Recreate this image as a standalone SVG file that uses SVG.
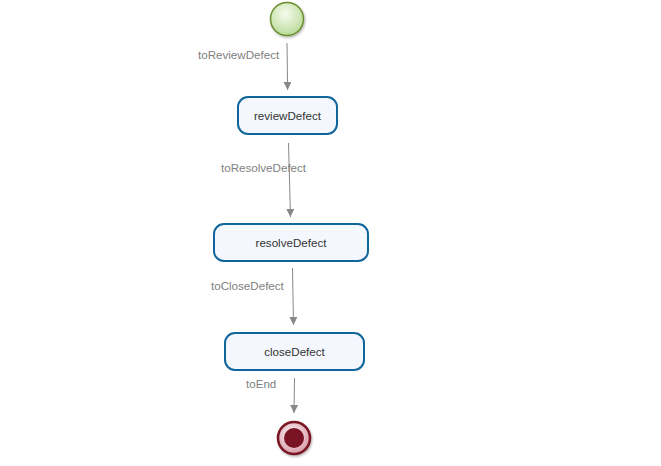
<svg xmlns="http://www.w3.org/2000/svg" width="661" height="466" viewBox="0 0 661 466">
  <style>
    .task rect { fill: #f5f7fe; stroke: #10669a; stroke-width: 2; }
    .task text { font-family: "Liberation Sans", Arial, sans-serif; font-size: 11.6px; fill: #333; text-anchor: middle; }
    .flow line { stroke: #888; stroke-width: 1; }
    .flow text { font-family: "Liberation Sans", Arial, sans-serif; font-size: 11.6px; fill: #808080; }
  </style>
  <defs>
    <radialGradient id="startFill" cx="0.45" cy="0.35" r="0.7">
      <stop offset="0" stop-color="#f7fbef"/>
      <stop offset="1" stop-color="#b5d992"/>
    </radialGradient>
    <radialGradient id="endFill" cx="0.45" cy="0.4" r="0.6">
      <stop offset="0" stop-color="#ffffff"/>
      <stop offset="1" stop-color="#d89aa6"/>
    </radialGradient>
    <filter id="shadow" x="-30%" y="-30%" width="160%" height="160%">
      <feDropShadow dx="1" dy="1.5" stdDeviation="1.2" flood-color="#000" flood-opacity="0.3"/>
    </filter>
    <marker id="arrow" viewBox="0 0 10 10" refX="10" refY="5" markerWidth="8" markerHeight="8" markerUnits="userSpaceOnUse" orient="auto">
      <path d="M0,0 L10,5 L0,10 z" fill="#888"/>
    </marker>
  </defs>

  <g id="connectors" class="flow">
    <line x1="287" y1="43" x2="287.6" y2="90" marker-end="url(#arrow)"/>
    <text x="198" y="59">toReviewDefect</text>
    <line x1="288.5" y1="143" x2="290.5" y2="217" marker-end="url(#arrow)"/>
    <text x="221" y="172">toResolveDefect</text>
    <line x1="292.5" y1="268" x2="293.5" y2="325" marker-end="url(#arrow)"/>
    <text x="211" y="290">toCloseDefect</text>
    <line x1="294.5" y1="378" x2="294" y2="413" marker-end="url(#arrow)"/>
    <text x="246" y="388">toEnd</text>
  </g>

  <g id="start">
    <circle cx="287" cy="19" r="16.5" fill="url(#startFill)" stroke="#6b8e2e" stroke-width="1.5" filter="url(#shadow)"/>
  </g>

  <g id="reviewDefect" class="task">
    <rect x="238" y="97" width="99" height="37" rx="10"/>
    <text x="287.5" y="119.5">reviewDefect</text>
  </g>

  <g id="resolveDefect" class="task">
    <rect x="214" y="224" width="154" height="37" rx="10"/>
    <text x="291" y="246.5">resolveDefect</text>
  </g>

  <g id="closeDefect" class="task">
    <rect x="225" y="333" width="139" height="37" rx="10"/>
    <text x="294.5" y="355.5">closeDefect</text>
  </g>

  <g id="end">
    <circle cx="294" cy="438" r="16" fill="url(#endFill)" stroke="#7a1424" stroke-width="2.5" filter="url(#shadow)"/>
    <circle cx="294" cy="438" r="10" fill="#7a1424"/>
  </g>
</svg>
